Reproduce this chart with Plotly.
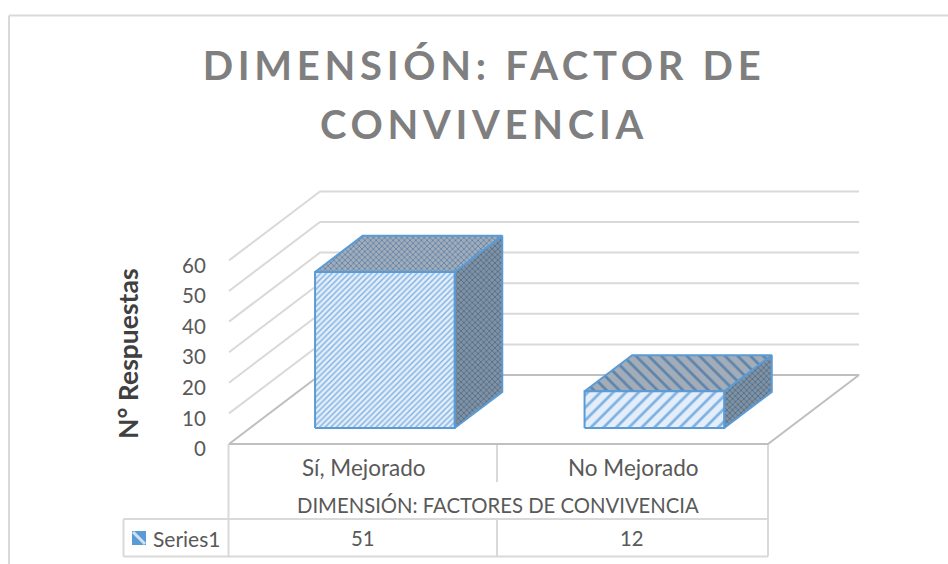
import plotly.graph_objects as go

W, H = 948, 564
categories = ["Sí, Mejorado", "No Mejorado"]
values = [51, 12]
series_name = "Series1"
y_ticks = [0, 10, 20, 30, 40, 50, 60]
title_text = "DIMENSIÓN: FACTOR DE<br>CONVIVENCIA"
y_title = "N° Respuestas"
x_title = "DIMENSIÓN: FACTORES DE CONVIVENCIA"

# projection of the oblique box: x in category units, y in value units, d = depth 0..1
X0_PX, Y0_PX = 229, 444
PX_PER_CAT = 269.5
PX_PER_VAL = 3.06
DX = 91 / PX_PER_CAT
DY = 69 / PX_PER_VAL
BAR_W = 0.518
D_FRONT, D_BACK = 0.232, 0.755

GRID = "#d9d9d9"
FLOOR = "#bfbfbf"
BLUE = "#5b9bd5"


def proj(x, v, d):
    return x + DX * d, v + DY * d


def poly(points, closed=True, **kw):
    pts = [proj(*p) for p in points]
    if closed:
        pts.append(pts[0])
    return go.Scatter(x=[p[0] for p in pts], y=[p[1] for p in pts], mode="lines",
                      hoverinfo="skip", showlegend=False, **kw)


def px(x):
    return x / W


def py(y):
    return 1 - y / H


fig = go.Figure()

# walls gridlines
for t in y_ticks[1:]:
    fig.add_trace(poly([(0, t, 0), (0, t, 1), (2.0, t, 1)], closed=False,
                       line=dict(color=GRID, width=2)))

# floor
fig.add_trace(poly([(0, 0, 0), (0, 0, 1), (2, 0, 1), (2, 0, 0)],
                   line=dict(color=FLOOR, width=2)))

# bars
patterns = [
    dict(shape="/", size=4, solidity=0.35),
    dict(shape="/", size=9, solidity=0.3),
]
top_patterns = [
    dict(shape="x", size=4, solidity=0.4),
    dict(shape="\\", size=9, solidity=0.3),
]
for i, v in enumerate(values):
    c = i + 0.5
    l, r = c - BAR_W / 2, c + BAR_W / 2
    edge = dict(color=BLUE, width=2)
    # side
    fig.add_trace(poly([(r, 0, D_FRONT), (r, 0, D_BACK), (r, v, D_BACK), (r, v, D_FRONT)],
                       line=edge, fill="toself", fillcolor="#71869b",
                       fillpattern=dict(shape="x", size=4, solidity=0.35,
                                        fgcolor="#52667a", bgcolor="#7f93a8", fillmode="replace")))
    # top
    tp = top_patterns[i]
    fig.add_trace(poly([(l, v, D_FRONT), (l, v, D_BACK), (r, v, D_BACK), (r, v, D_FRONT)],
                       line=edge, fill="toself", fillcolor="#92a1b2",
                       fillpattern=dict(fgcolor="#5f84ab", bgcolor="#a3adb9", fillmode="replace", **tp)))
    # front
    fp = patterns[i]
    fig.add_trace(poly([(l, 0, D_FRONT), (r, 0, D_FRONT), (r, v, D_FRONT), (l, v, D_FRONT)],
                       line=edge, fill="toself", fillcolor="#ddebf7", name=categories[i],
                       fillpattern=dict(fgcolor="#7fb1e0", bgcolor="#e3eefa", fillmode="replace", **fp)))

line = dict(color=GRID, width=2)
shapes = []


def seg(x0, y0, x1, y1, ln=line):
    shapes.append(dict(type="line", xref="paper", yref="paper", layer="below",
                       x0=px(x0), y0=py(y0), x1=px(x1), y1=py(y1), line=ln))


# chart frame (cropped on the right and bottom)
seg(9, 15.5, 948, 15.5)
seg(9, 15.5, 9, 564)
# data table
seg(228.5, 444, 228.5, 556.5)
seg(768, 444, 768, 556.5)
seg(497, 444, 497, 482)
seg(497, 519, 497, 556.5)
seg(123.5, 519, 768, 519)
seg(123.5, 556.5, 768, 556.5)
seg(123.5, 519, 123.5, 556.5)
# legend key
shapes.append(dict(type="rect", xref="paper", yref="paper", x0=px(132), x1=px(146),
                   y0=py(545), y1=py(531), fillcolor=BLUE, line=dict(width=0)))
seg(133, 532, 145, 544, dict(color="#cfe2f3", width=3))
shapes[-1]["layer"] = "above"

TXT = "#595959"
F = "Lato, Carlito, Calibri, sans-serif"


def note(x, y, text, size=20.3, **kw):
    return dict(x=px(x), y=py(y), xref="paper", yref="paper", text=text, showarrow=False,
                font=dict(family=F, size=size, color=kw.pop("color", TXT)),
                xanchor=kw.pop("xanchor", "center"), yanchor="middle", **kw)


annotations = [
    note(498, 505, x_title),
    note(151, 538, series_name, size=21, xanchor="left"),
    note(363, 538, str(values[0])),
    note(632, 538, str(values[1])),
    note(128, 353, f"<b>{y_title}</b>", size=26.5, textangle=-90, color="#404040"),
]

fig.update_layout(
    width=W, height=H, margin=dict(l=0, r=0, t=0, b=0),
    paper_bgcolor="white", plot_bgcolor="white", showlegend=False,
    title=dict(text=title_text, x=484 / W, xanchor="center", y=1 - 80 / H, yanchor="bottom",
               font=dict(family=F, size=40, color="#7f7f7f", weight="bold")),
    font=dict(family=F, color=TXT),
    shapes=shapes, annotations=annotations,
    xaxis=dict(range=[-X0_PX / PX_PER_CAT, (W - X0_PX) / PX_PER_CAT], domain=[0, 1],
               anchor="free", position=py(Y0_PX), showgrid=False, zeroline=False, showline=False,
               tickmode="array", tickvals=[0.5, 1.5], ticktext=categories,
               ticks="outside", ticklen=4, tickcolor="rgba(0,0,0,0)",
               tickfont=dict(family=F, size=22.5, color=TXT)),
    yaxis=dict(range=[-(H - Y0_PX) / PX_PER_VAL, Y0_PX / PX_PER_VAL], domain=[0, 1],
               anchor="free", position=px(X0_PX), showgrid=False, zeroline=False, showline=False,
               tickmode="array", tickvals=y_ticks,
               ticks="outside", ticklen=19, tickcolor="rgba(0,0,0,0)",
               ticklabelshift=5,
               tickfont=dict(family=F, size=20.5, color=TXT)),
)

post = """
document.body.style.margin='0';
document.documentElement.style.overflow='hidden';
var t=document.querySelector('.gtitle');
if(t){t.style.letterSpacing='4.7px';
var ls=t.querySelectorAll('tspan.line');
if(ls.length>1){ls[1].setAttribute('y',parseFloat(ls[1].getAttribute('y'))+7);}}
"""
fig.write_html("out.html", post_script=post, config=dict(displayModeBar=False))
